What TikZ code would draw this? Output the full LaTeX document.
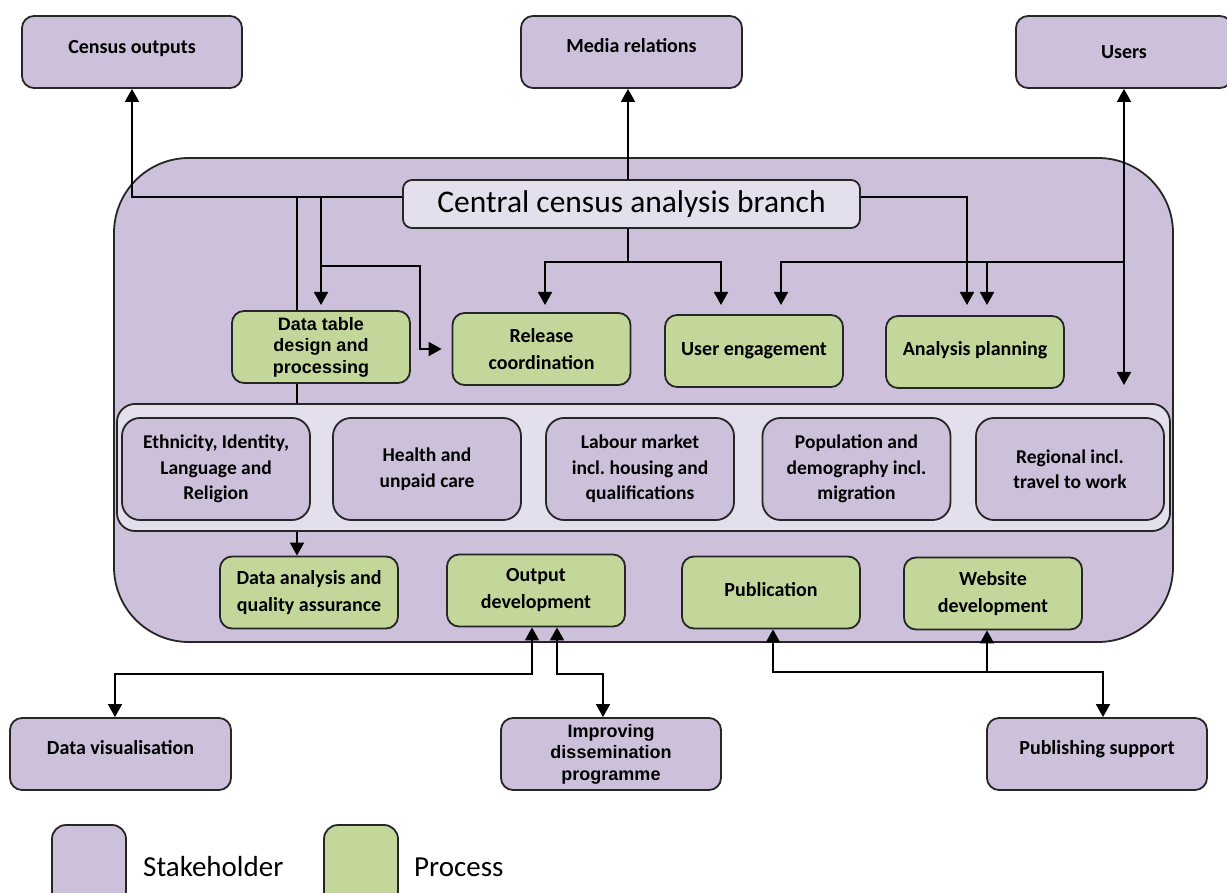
\documentclass[tikz,border=0pt]{standalone}
\usepackage{fontspec}
\setmainfont{Carlito}
\newfontfamily\arialf{Liberation Sans}
\usetikzlibrary{arrows.meta,calc}
\definecolor{stakefill}{HTML}{CCC0DA}
\definecolor{procfill}{HTML}{C4D79B}
\definecolor{lightlav}{HTML}{E4DFEC}
\definecolor{edgecol}{HTML}{262626}
\newcommand{\rb}[2]{\raisebox{#1pt}[\height][\depth]{#2}}
\pgfdeclarelayer{bg}
\pgfdeclarelayer{lines}
\pgfsetlayers{bg,lines,main}
\frenchspacing
\begin{document}
\begin{tikzpicture}[x=1pt,y=-1pt,
  box/.style={draw=edgecol, line width=1.8pt, rounded corners=12pt, align=center, inner sep=0pt},
  stake/.style={box, fill=stakefill, minimum width=220pt, minimum height=72pt, font=\fontsize{20}{26}\selectfont\bfseries},
  proc/.style={box, fill=procfill, minimum width=178pt, minimum height=72pt, font=\fontsize{20}{27}\selectfont\bfseries},
  topic/.style={box, fill=stakefill, rounded corners=18pt, minimum width=188pt, minimum height=102pt, font=\fontsize{19.5}{25.5}\selectfont\bfseries},
  arialtxt/.style={font=\fontsize{18}{21.5}\selectfont\arialf\bfseries},
  conn/.style={draw=black, line width=1.8pt},
  arr/.style={conn, -{Triangle[length=13pt,width=14pt]}},
  arrb/.style={conn, {Triangle[length=13pt,width=14pt]}-{Triangle[length=13pt,width=14pt]}},
]
\useasboundingbox (0,0) rectangle (1227,893);

\begin{pgfonlayer}{bg}
\fill[white] (0,0) rectangle (1227,893);
\node[draw=edgecol, line width=1.8pt, fill=stakefill, rounded corners=75pt, minimum width=1059pt, minimum height=484pt, inner sep=0pt] (cont) at (643.5,400) {};
\end{pgfonlayer}

% stakeholders top
\node[stake] (census) at (132,52) {\rb{3.5}{Census outputs}};
\node[stake, minimum width=221pt] (media) at (631.5,52) {\rb{6}{Media relations}};
\node[stake, minimum width=216pt] (users) at (1124,52) {Users};

% title
\node[box, fill=lightlav, rounded corners=9pt, minimum width=457pt, minimum height=48pt, font=\fontsize{31.5}{31.5}\selectfont] (title) at (631.5,204) {Central census analysis branch};

% processes top
\node[proc, arialtxt] (dtd) at (321,347) {Data table\\design and\\processing};
\node[proc] (rel) at (541.5,349) {Release\\coordination};
\node[proc] (ue) at (754,351) {\rb{0.5}{User engagement}};
\node[proc] (ap) at (975,352) {\rb{2}{Analysis planning}};

% band with topics
\node[box, fill=lightlav, rounded corners=18pt, minimum width=1053pt, minimum height=127pt] (band) at (643.5,467.5) {};
\node[topic] (t1) at (216,469) {Ethnicity, Identity,\\Language and\\Religion};
\node[topic] (t2) at (427,469) {Health and\\unpaid care};
\node[topic] (t3) at (640,469) {Labour market\\incl. housing and\\qualifications};
\node[topic] (t4) at (856.5,469) {Population and\\demography incl.\\migration};
\node[topic] (t5) at (1070,469) {Regional incl.\\travel to work};

% processes bottom
\node[proc] (daqa) at (309,592.5) {Data analysis and\\quality assurance};
\node[proc] (od) at (536,590.5) {Output\\development};
\node[proc] (pub) at (771,592.5) {\rb{3}{Publication}};
\node[proc] (web) at (993,593.5) {Website\\development};

% stakeholders bottom
\node[stake, minimum width=221pt] (dv) at (120.5,754) {\rb{6}{Data visualisation}};
\node[stake, arialtxt] (idp) at (611,754) {Improving\\dissemination\\programme};
\node[stake] (ps) at (1097,754) {\rb{5}{Publishing support}};

% legend
\node[box, fill=stakefill, rounded corners=14pt, minimum width=74pt, minimum height=80pt] (lgs) at (89,865) {};
\node[anchor=base west, inner sep=0pt, font=\fontsize{29}{29}\selectfont] (lgst) at (143,876) {Stakeholder};
\node[box, fill=procfill, rounded corners=14pt, minimum width=74pt, minimum height=80pt] (lgp) at (361,865) {};
\node[anchor=base west, inner sep=0pt, font=\fontsize{29}{29}\selectfont] (lgpt) at (414,876) {Process};

% connectors
\begin{pgfonlayer}{lines}
\coordinate (tip) at (0,305);
\coordinate (h) at (0,262);
\coordinate (m) at (628,0);
\coordinate (vL) at (297,197);
\coordinate (rr) at (420,266);
\coordinate (xrel) at ([xshift=3.5pt]rel.north);
\coordinate (xue1) at ([xshift=-33pt]ue.north);
\coordinate (xue2) at ([xshift=27pt]ue.north);
\coordinate (xap1) at ([xshift=-8pt]ap.north);
\coordinate (xap2) at ([xshift=12pt]ap.north);
\coordinate (ubot) at (1124,385);
\coordinate (relin) at ([xshift=-10pt]rel.west);

\draw[arr] ([yshift=7pt]title.west) -| (census.south);
\draw[conn] (vL) -- (vL |- band.north);
\draw[arr] (vL |- band.south) -- (vL |- daqa.north);
\draw[arr] (dtd.north |- vL) -- (dtd.north |- tip);
\draw[arr] (dtd.north |- rr) -| (rr |- relin) -- (relin);
\draw[arr] (title.north -| m) -- (media.south -| m);
\draw[conn] (title.south -| m) -- (m |- h);
\draw[arr] (m |- h) -| (xrel |- tip);
\draw[arr] (m |- h) -| (xue1 |- tip);
\draw[arrb] (users.south) -- (ubot);
\draw[arr] (users.south |- h) -| (xue2 |- tip);
\draw[arr] (xap2 |- h) -- (xap2 |- tip);
\draw[arr] ([yshift=7pt]title.east) -| (xap1 |- tip);

\coordinate (od1) at ([xshift=-4pt]od.south);
\coordinate (od2) at ([xshift=21pt]od.south);
\coordinate (dvx) at ([xshift=-5.5pt]dv.north);
\coordinate (idpx) at ([xshift=-8pt]idp.north);
\coordinate (hb) at (0,674);
\draw[arrb] (od1) -- (od1 |- hb) -| (dvx);
\draw[arrb] (od2) -- (od2 |- hb) -| (idpx);
\coordinate (pubx) at ([xshift=2pt]pub.south);
\coordinate (webx) at ([xshift=-6pt]web.south);
\coordinate (psx) at ([xshift=6pt]ps.north);
\coordinate (hc) at (0,672);
\draw[arrb] (pubx) -- (pubx |- hc) -| (psx);
\draw[arr] (webx |- hc) -- (webx);
\end{pgfonlayer}
\end{tikzpicture}
\end{document}
